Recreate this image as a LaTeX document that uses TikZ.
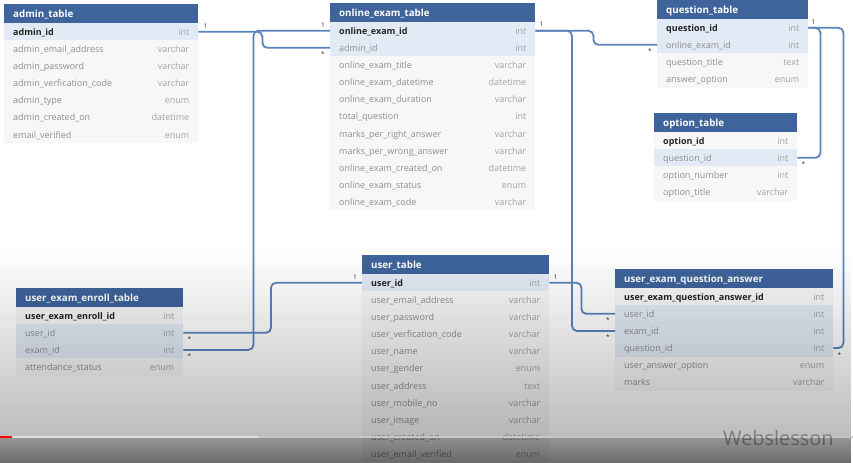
\documentclass[tikz,border=0pt]{standalone}
\usepackage{fontspec}
\setmainfont{Open Sans}
\usetikzlibrary{calc,fadings}
\definecolor{hdrblue}{HTML}{3E649B}
\definecolor{hlblue}{HTML}{E2EBF5}
\definecolor{rowbg}{HTML}{F7F7F7}
\definecolor{linkblue}{HTML}{5A83BC}
\definecolor{fieldgray}{HTML}{8E8E8E}
\definecolor{typegray}{HTML}{A2A2A2}
\definecolor{pkdark}{HTML}{222222}
\definecolor{carddark}{HTML}{333333}
\setlength{\parindent}{0pt}
\tikzfading[name=overlayfade, top color=transparent!100, bottom color=transparent!74]
\tikzfading[name=barfade, top color=transparent!58, bottom color=transparent!42]
\tikzset{
  hdr/.style={fill=hdrblue, text=white, font=\fontsize{9.8}{11}\selectfont\bfseries,
    minimum height=19bp, inner xsep=9bp, inner ysep=0pt, anchor=north west,
    text height=8.5bp, text depth=0.5bp},
  rowbox/.style={fill=rowbg, text=fieldgray, font=\fontsize{9}{10}\selectfont,
    minimum height=17.1bp, inner xsep=9bp, inner ysep=0pt, anchor=north west,
    text height=8bp, text depth=0.5bp},
  pkh/.style={fill=hlblue, text=pkdark, font=\fontsize{9}{10}\selectfont\bfseries},
  pk/.style={text=pkdark, font=\fontsize{9}{10}\selectfont\bfseries},
  fk/.style={fill=hlblue},
  nn/.style={},
  conn/.style={draw=linkblue, line width=1.8bp, rounded corners=5bp},
  card/.style={font=\fontsize{6.5}{7}\selectfont, text=carddark, inner sep=0pt},
}
\newcommand\ertype[1]{{\mdseries\color{typegray}#1}}
\newcommand\ertable[6]{%
  \pgfmathsetmacro\ertw{#4-18}%
  \node[hdr, text width=\ertw bp] (#1) at (#2,#3) {#5};
  \foreach \f/\t/\s [count=\i] in {#6}{%
    \node[rowbox, \s, text width=\ertw bp] (#1-\i) at ({#2},{#3+19+(\i-1)*17.1}) {\f\hfill\ertype{\t}};
  }%
}
\begin{document}
\begin{tikzpicture}[x=1bp,y=-1bp]
\useasboundingbox[fill=white] (0,0) rectangle (853,463);

\ertable{admin}{4}{4}{194}{admin\_table}{%
  admin\_id/int/pkh,
  admin\_email\_address/varchar/nn,
  admin\_password/varchar/nn,
  admin\_verfication\_code/varchar/nn,
  admin\_type/enum/nn,
  admin\_created\_on/datetime/nn,
  email\_verified/enum/nn}

\ertable{online}{330}{3}{205}{online\_exam\_table}{%
  online\_exam\_id/int/pkh,
  admin\_id/int/fk,
  online\_exam\_title/varchar/nn,
  online\_exam\_datetime/datetime/nn,
  online\_exam\_duration/varchar/nn,
  total\_question/int/nn,
  marks\_per\_right\_answer/varchar/nn,
  marks\_per\_wrong\_answer/varchar/nn,
  online\_exam\_created\_on/datetime/nn,
  online\_exam\_status/enum/nn,
  online\_exam\_code/varchar/nn}

\ertable{question}{657}{0}{151}{question\_table}{%
  question\_id/int/pkh,
  online\_exam\_id/int/fk,
  question\_title/text/nn,
  answer\_option/enum/nn}

\ertable{option}{654}{113}{143}{option\_table}{%
  option\_id/int/pk,
  question\_id/int/fk,
  option\_number/int/nn,
  option\_title/varchar/nn}

\ertable{enroll}{16}{288}{167}{user\_exam\_enroll\_table}{%
  user\_exam\_enroll\_id/int/pk,
  user\_id/int/fk,
  exam\_id/int/fk,
  attendance\_status/enum/nn}

\ertable{user}{362}{255}{187}{user\_table}{%
  user\_id/int/pkh,
  user\_email\_address/varchar/nn,
  user\_password/varchar/nn,
  user\_verfication\_code/varchar/nn,
  user\_name/varchar/nn,
  user\_gender/enum/nn,
  user\_address/text/nn,
  user\_mobile\_no/varchar/nn,
  user\_image/varchar/nn,
  user\_created\_on/datetime/nn,
  user\_email\_verified/enum/nn}

\ertable{uqa}{615}{269}{218}{user\_exam\_question\_answer}{%
  user\_exam\_question\_answer\_id/int/pk,
  user\_id/int/fk,
  exam\_id/int/fk,
  question\_id/int/fk,
  user\_answer\_option/enum/nn,
  marks/varchar/nn}

% connectors
\draw[conn] (admin-1.east) -- ++(64,0) |- (online-2.west);
\draw[conn] (online-1.west) -| ($(enroll-3.east)+(70,0)$) -- (enroll-3.east);
\draw[conn] (online-1.east) -- ++(58,0) |- (question-2.west);
\draw[conn] (online-1.east) -| ($(uqa-3.west)+(-43,0)$) -- (uqa-3.west);
\draw[conn] (user-1.east) -- ++(32,0) |- (uqa-2.west);
\draw[conn] (user-1.west) -- ++(-91,0) |- (enroll-2.east);
\draw[conn] (question-1.east) -- ++(12,0) |- (option-2.east);
\draw[conn] (question-1.east) -- ++(35,0) |- (uqa-4.east);

% cardinalities
\node[card] (c1) at ($(admin-1.east)+(7,-6)$) {1};
\node[card] (c2) at ($(online-2.west)+(-7,6)$) {*};
\node[card] (c3) at ($(online-1.west)+(-7,-6)$) {1};
\node[card] (c4) at ($(enroll-3.east)+(6,6)$) {*};
\node[card] (c5) at ($(online-1.east)+(6,-7)$) {1};
\node[card] (c6) at ($(question-2.west)+(-7,6)$) {*};
\node[card] (c7) at ($(uqa-3.west)+(-7,6)$) {*};
\node[card] (c8) at ($(user-1.east)+(6,-6)$) {1};
\node[card] (c9) at ($(uqa-2.west)+(-7,6)$) {*};
\node[card] (c10) at ($(user-1.west)+(-7,-6)$) {1};
\node[card] (c11) at ($(enroll-2.east)+(6,6)$) {*};
\node[card] (c12) at ($(question-1.east)+(5,-6)$) {1};
\node[card] (c13) at ($(option-2.east)+(6,6)$) {*};
\node[card] (c14) at ($(uqa-4.east)+(6,7)$) {*};

% video overlay
\fill[black, path fading=overlayfade] (0,250) rectangle (853,436);
\fill[black, path fading=barfade] (0,438) rectangle (853,463);
\fill[black!22] (0,436) rectangle (853,438);
\fill[black!13] (0,436) rectangle (258,438);
\fill[red] (0,436) rectangle (12,438);
\node[font=\fontsize{20}{24}\selectfont, text=black, text opacity=0.35, anchor=base west, inner sep=0pt] (wm) at (723,445) {Webslesson};
\end{tikzpicture}
\end{document}
